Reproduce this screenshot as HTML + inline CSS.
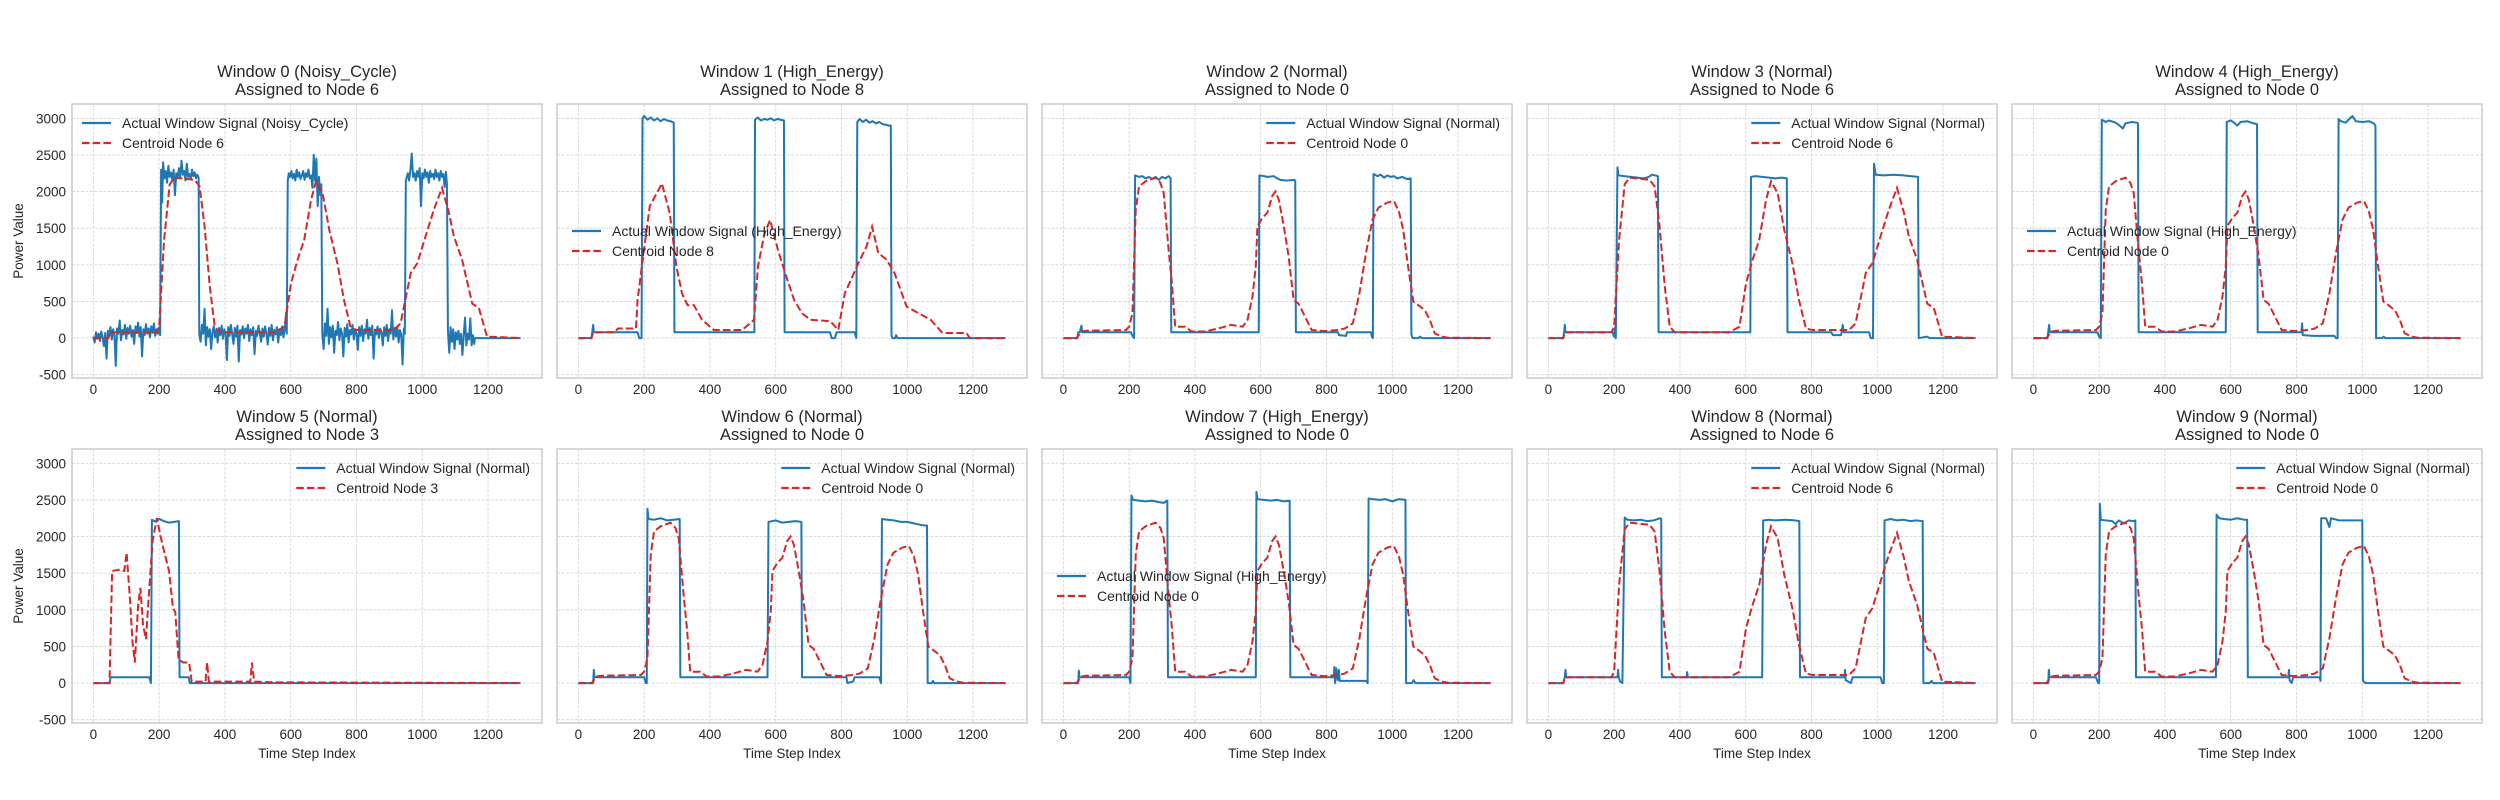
<!DOCTYPE html>
<html><head><meta charset="utf-8">
<style>
html,body{margin:0;padding:0;background:#fff;}
svg{display:block;font-family:"Liberation Sans",Arial,sans-serif;}
</style></head>
<body>
<svg id="fig" width="2500" height="800" viewBox="0 0 2500 800" xmlns="http://www.w3.org/2000/svg">
<text x="1250" y="-9" text-anchor="middle" font-size="22" fill="#262626">Sample Window Mapping to Assigned SOM Centroid Signatures</text>
</svg>
<script>
// ---- data ----
const xTicks = [0,200,400,600,800,1000,1200];
const yTicks = [-500,0,500,1000,1500,2000,2500,3000];
const panelTitles = ["Window 0 (Noisy_Cycle)","Window 1 (High_Energy)","Window 2 (Normal)","Window 3 (Normal)","Window 4 (High_Energy)","Window 5 (Normal)","Window 6 (Normal)","Window 7 (High_Energy)","Window 8 (Normal)","Window 9 (Normal)"];
const panelClasses = ["Noisy_Cycle","High_Energy","Normal","Normal","High_Energy","Normal","Normal","High_Energy","Normal","Normal"];
const assignedNodes = [6,8,0,6,0,3,0,0,6,0];
const legendLocs = ["ul","cl","ur","ur","cl","ur","ur","cl","ur","ur"];

const centroid0 = [[0,0],[40,0],[55,90],[70,100],[190,110],[200,155],[210,340],[220,1750],[230,2070],[250,2140],[280,2190],[295,2120],[305,1980],[320,1200],[330,750],[340,155],[370,155],[390,90],[430,90],[470,130],[510,180],[545,155],[560,250],[575,570],[585,980],[590,1530],[605,1640],[620,1710],[635,1940],[645,2000],[655,1890],[670,1530],[685,1110],[700,520],[715,470],[735,290],[755,110],[795,95],[835,110],[855,130],[880,200],[900,610],[920,1160],[940,1620],[958,1780],[985,1850],[1005,1870],[1020,1730],[1033,1480],[1048,980],[1064,500],[1079,450],[1099,380],[1114,250],[1129,65],[1150,20],[1170,5],[1299,0]];
const centroid3 = [[0,0],[49,0],[57,1530],[81,1550],[94,1530],[101,1780],[111,1160],[119,560],[126,280],[136,1060],[143,1300],[151,790],[160,600],[168,1160],[180,1940],[193,2250],[205,1990],[217,1760],[230,1530],[242,1020],[249,970],[259,320],[274,280],[291,280],[299,20],[341,20],[346,280],[351,20],[477,20],[482,280],[489,20],[550,10],[1299,0]];
const centroid6 = [[0,0],[45,0],[52,80],[192,80],[200,155],[215,1340],[232,2100],[247,2190],[308,2160],[323,2070],[338,1530],[354,700],[369,155],[384,80],[550,80],[581,155],[601,750],[621,1070],[641,1340],[662,1890],[677,2140],[697,1980],[717,1480],[742,1020],[762,520],[783,130],[803,110],[914,110],[934,200],[965,890],[985,1020],[1010,1390],[1035,1750],[1060,2050],[1081,1710],[1096,1390],[1121,1070],[1152,470],[1172,410],[1197,20],[1299,0]];
const centroid8 = [[0,0],[40,0],[45,80],[110,80],[120,130],[175,130],[180,520],[193,980],[217,1800],[254,2110],[278,1700],[298,980],[315,610],[332,450],[351,450],[376,250],[412,110],[498,110],[534,250],[546,980],[566,1430],[583,1610],[607,1200],[632,840],[656,520],[680,340],[705,250],[766,230],[790,110],[810,610],[851,1020],[876,1250],[893,1520],[912,1160],[937,1070],[961,890],[998,430],[1034,340],[1071,250],[1107,70],[1180,70],[1190,0],[1299,0]];

const actual0 = [[0,20],[4,-60],[8,80],[12,-10],[16,60],[20,-40],[24,90],[28,10],[32,-110],[36,70],[40,-280],[44,100],[48,30],[52,150],[56,-20],[60,120],[64,40],[68,-380],[72,130],[76,60],[80,240],[84,-30],[88,110],[92,50],[96,180],[100,-10],[104,140],[108,60],[112,170],[116,20],[120,110],[124,-80],[128,160],[132,70],[136,210],[140,20],[144,150],[148,-250],[152,120],[156,40],[160,190],[164,60],[168,130],[172,10],[176,160],[180,70],[184,200],[188,30],[192,120],[196,60],[200,150],[203,40],
[206,2300],[209,1850],[212,2400],[216,2180],[220,2280],[224,2120],[228,2350],[232,2200],[236,2260],[240,2150],[244,2300],[248,1950],[252,2250],[256,2180],[260,2320],[264,2200],[268,2420],[272,2230],[276,2280],[280,2150],[284,2380],[288,2200],[292,2240],[296,2170],[300,2300],[304,2210],[308,2260],[312,2180],[316,2230],[320,2190],
[322,50],[326,-50],[330,180],[334,60],[338,400],[342,-100],[346,150],[350,20],[354,120],[358,-150],[362,80],[366,160],[370,10],[374,110],[378,-60],[382,140],[386,40],[390,170],[394,-10],[398,120],[402,60],[406,-300],[410,150],[414,30],[418,180],[422,60],[426,-80],[430,140],[434,20],[438,170],[442,-320],[446,110],[450,50],[454,160],[458,0],[462,130],[466,60],[470,180],[474,-40],[478,120],[482,40],[486,150],[490,-220],[494,100],[498,30],[502,170],[506,70],[510,-50],[514,130],[518,20],[522,160],[526,60],[530,-90],[534,140],[538,30],[542,180],[546,-30],[550,110],[554,50],[558,150],[562,-60],[566,120],[570,40],[574,160],[578,10],[582,130],[586,350],[588,60],
[591,2150],[594,2250],[598,2200],[602,2280],[606,2180],[610,2240],[614,2150],[618,2300],[622,2200],[626,2260],[630,2170],[634,2220],[638,2280],[642,2160],[646,2250],[650,2200],[654,2300],[658,2180],[662,2220],[666,2050],[670,2500],[674,2150],[678,2450],[682,1800],[686,2200],[690,1950],[693,2100],
[696,50],[700,-150],[704,200],[708,30],[712,400],[716,-80],[720,150],[724,10],[728,170],[732,-200],[736,100],[740,40],[744,220],[748,-30],[752,130],[756,60],[760,-250],[764,140],[768,20],[772,190],[776,-60],[780,110],[784,50],[788,180],[792,-20],[796,120],[800,60],[804,-160],[808,150],[812,30],[816,170],[820,-40],[824,120],[828,60],[832,250],[836,-10],[840,140],[844,40],[848,170],[852,-280],[856,110],[860,50],[864,160],[868,0],[872,130],[876,80],[880,-100],[884,150],[888,30],[892,180],[896,-40],[900,120],[904,60],[908,380],[912,-20],[916,140],[920,20],[924,160],[928,-60],[932,110],[936,50],[940,-360],[944,130],[947,60],
[950,2150],[953,2200],[956,2250],[960,2150],[964,2300],[968,2520],[972,2200],[976,2250],[980,2150],[984,2280],[988,2200],[992,2320],[996,1800],[1000,2250],[1004,2180],[1008,2300],[1012,2200],[1016,2260],[1020,2120],[1024,2280],[1028,2200],[1032,2240],[1036,2170],[1040,2300],[1044,2200],[1048,2250],[1052,2150],[1056,2280],[1060,2200],[1064,2240],[1068,2060],[1072,2270],[1075,2100],
[1078,100],[1082,-200],[1086,150],[1090,-50],[1094,120],[1098,-150],[1102,80],[1106,-20],[1110,100],[1114,-80],[1118,60],[1122,-230],[1126,40],[1130,280],[1134,-100],[1138,60],[1142,-20],[1146,270],[1150,-100],[1154,40],[1158,-80],[1160,0],[1299,0]];
const actual1 = [[0,0],[40,0],[42,80],[45,180],[47,80],[180,80],[185,0],[192,0],[195,3000],[200,3030],[210,2980],[220,3010],[230,2970],[240,3000],[250,2960],[260,2990],[270,2970],[280,2960],[290,2940],[292,80],[535,80],[537,2980],[545,3010],[555,2970],[565,2990],[575,2980],[585,3000],[595,2970],[605,2990],[615,2980],[625,2970],[627,80],[765,80],[770,0],[780,0],[785,80],[840,80],[845,0],[848,2950],[855,2990],[865,2950],[875,2980],[885,2940],[895,2960],[905,2930],[915,2950],[925,2920],[945,2900],[950,2900],[952,30],[955,0],[963,0],[966,40],[970,0],[1299,0]];
const actual2 = [[0,0],[43,0],[45,80],[50,80],[55,170],[57,80],[205,80],[210,30],[215,0],[218,2220],[230,2200],[240,2210],[250,2180],[260,2200],[270,2170],[280,2200],[290,2160],[300,2200],[310,2180],[320,2210],[326,2180],[328,80],[594,80],[596,2220],[610,2210],[620,2200],[640,2210],[650,2180],[660,2160],[680,2150],[700,2160],[705,2150],[707,80],[835,80],[838,40],[860,30],[862,80],[935,80],[938,20],[941,0],[943,2240],[955,2210],[965,2230],[975,2190],[985,2220],[995,2200],[1005,2210],[1015,2180],[1030,2200],[1045,2170],[1056,2180],[1058,50],[1062,0],[1080,0],[1084,20],[1090,0],[1299,0]];
const actual3 = [[0,0],[45,0],[48,80],[50,180],[52,80],[195,80],[200,20],[203,150],[205,0],[210,2330],[213,2220],[230,2210],[250,2200],[270,2190],[290,2180],[305,2200],[315,2230],[325,2220],[333,2210],[335,80],[614,80],[616,2200],[630,2210],[650,2200],[670,2190],[690,2180],[710,2190],[725,2180],[727,80],[860,80],[865,40],[890,40],[895,180],[898,80],[975,80],[980,0],[987,0],[990,2380],[995,2230],[1020,2220],[1050,2230],[1080,2220],[1100,2210],[1124,2200],[1126,0],[1140,10],[1150,20],[1160,0],[1299,0]];
const actual4 = [[0,0],[43,0],[45,80],[48,180],[50,80],[195,80],[200,20],[205,0],[208,2980],[220,2950],[230,2970],[250,2940],[262,2900],[272,2860],[280,2930],[300,2950],[315,2940],[318,2930],[320,80],[585,80],[588,2950],[600,2970],[610,2940],[620,2900],[630,2950],[650,2960],[670,2930],[680,2920],[682,80],[815,80],[817,200],[819,40],[850,30],[915,30],[920,0],[925,0],[928,2990],[935,2960],[950,2940],[960,2990],[970,3030],[980,2960],[1000,2950],[1020,2960],[1035,2930],[1040,2900],[1042,0],[1060,0],[1065,20],[1070,0],[1299,0]];
const actual5 = [[0,0],[50,0],[52,80],[170,80],[175,0],[178,2230],[190,2200],[200,2240],[215,2210],[230,2190],[245,2200],[260,2210],[262,80],[290,80],[293,0],[1299,0]];
const actual6 = [[0,0],[45,0],[47,180],[49,80],[200,80],[205,0],[208,0],[210,2380],[213,2240],[230,2230],[250,2250],[270,2220],[290,2230],[308,2240],[310,80],[575,80],[578,2200],[600,2220],[620,2190],[640,2200],[660,2210],[678,2200],[680,80],[815,80],[818,0],[835,20],[840,80],[915,80],[920,0],[923,2240],[940,2230],[960,2220],[980,2200],[1000,2200],[1020,2180],[1040,2160],[1055,2150],[1060,2150],[1062,0],[1075,0],[1078,30],[1082,0],[1299,0]];
const actual7 = [[0,0],[45,0],[47,170],[49,80],[200,80],[204,0],[207,2560],[212,2500],[230,2490],[250,2480],[270,2490],[290,2470],[305,2460],[316,2490],[318,80],[585,80],[587,2610],[590,2510],[610,2500],[630,2490],[650,2500],[670,2480],[688,2490],[690,80],[822,80],[824,220],[826,0],[830,200],[834,40],[838,180],[840,30],[920,30],[925,0],[928,2520],[940,2510],[960,2500],[980,2510],[1000,2480],[1020,2510],[1040,2500],[1042,0],[1060,0],[1065,40],[1070,0],[1299,0]];
const actual8 = [[0,0],[45,0],[50,80],[52,180],[54,80],[210,80],[212,180],[214,80],[218,20],[225,0],[232,2260],[240,2230],[260,2220],[280,2230],[300,2210],[320,2220],[340,2250],[343,2240],[345,80],[420,80],[422,150],[424,80],[650,80],[653,2220],[670,2230],[690,2220],[720,2230],[750,2220],[763,2210],[765,80],[900,80],[902,180],[904,40],[920,0],[925,80],[1010,80],[1015,0],[1020,0],[1022,2220],[1040,2240],[1060,2220],[1080,2230],[1100,2210],[1120,2220],[1138,2210],[1140,0],[1160,0],[1165,30],[1170,0],[1299,0]];
const actual9 = [[0,0],[45,0],[47,180],[49,80],[190,80],[197,0],[200,0],[202,2450],[205,2230],[220,2220],[240,2210],[250,2170],[260,2220],[275,2180],[290,2220],[305,2210],[310,2220],[312,80],[555,80],[557,2300],[565,2250],[580,2240],[600,2230],[620,2250],[640,2230],[650,2230],[652,80],[775,80],[777,180],[779,40],[785,0],[790,80],[870,80],[873,30],[875,2250],[890,2250],[900,2130],[905,2250],[930,2220],[960,2220],[1000,2220],[1002,30],[1010,0],[1299,0]];

const actualSeries = [actual0,actual1,actual2,actual3,actual4,actual5,actual6,actual7,actual8,actual9];
const centroidById = {0:centroid0,3:centroid3,6:centroid6,8:centroid8};

// ---- layout ----
const NS = "http://www.w3.org/2000/svg";
const svg = document.getElementById("fig");
const PW = 470, PH = 274;
const colX = [72,557,1042,1527,2012];
const rowY = [104,449];
const XMIN = -65, XMAX = 1364, YMIN = -545, YMAX = 3195;

function el(tag, attrs, parent){
  const e = document.createElementNS(NS, tag);
  for (const k in attrs) e.setAttribute(k, attrs[k]);
  (parent||svg).appendChild(e);
  return e;
}

for (let i = 0; i < 10; i++) {
  const r = Math.floor(i/5), c = i%5;
  const ox = colX[c], oy = rowY[r];
  const sx = v => ox + (v - XMIN) / (XMAX - XMIN) * PW;
  const sy = v => oy + (YMAX - v) / (YMAX - YMIN) * PH;
  const g = el("g", {});
  
  

  xTicks.forEach(t => {
    const l = el("line", {x1:sx(t), x2:sx(t), y1:oy, y2:oy+PH, stroke:"#d6d6d6", "stroke-width":0.9, "stroke-dasharray":"3,1.5"}, g);
    
    
  });
  yTicks.forEach(t => {
    const l = el("line", {x1:ox, x2:ox+PW, y1:sy(t), y2:sy(t), stroke:"#d6d6d6", "stroke-width":0.9, "stroke-dasharray":"3,1.5"}, g);
    
    
  });

  const cp = el("clipPath", {id:"cp"+i}, g);
  el("rect", {x:ox, y:oy, width:PW, height:PH}, cp);

  const toPath = arr => arr.map((p,j) => (j?"L":"M") + sx(p[0]).toFixed(2) + "," + sy(p[1]).toFixed(2)).join("");
  const a = el("path", {d:toPath(actualSeries[i]), fill:"none", stroke:"#1f77b4", "stroke-width":2, "stroke-linejoin":"round", "clip-path":"url(#cp"+i+")"}, g);
  
  
  const cd = el("path", {d:toPath(centroidById[assignedNodes[i]]), fill:"none", stroke:"#d62728", "stroke-width":2, "stroke-dasharray":"7.5,3.2", "clip-path":"url(#cp"+i+")"}, g);
  
  

  const fr = el("rect", {x:ox, y:oy, width:PW, height:PH, fill:"none", stroke:"#cccccc", "stroke-width":1.5}, g);
  
  

  const t1 = el("text", {x:ox+PW/2, y:oy-27, "text-anchor":"middle", "font-size":16.5, fill:"#262626"}, g);
  t1.textContent = panelTitles[i];
  
  
  const t2 = el("text", {x:ox+PW/2, y:oy-9, "text-anchor":"middle", "font-size":16.5, fill:"#262626"}, g);
  t2.textContent = "Assigned to Node " + assignedNodes[i];
  
  

  xTicks.forEach(t => {
    const tl = el("text", {x:sx(t), y:oy+PH+16, "text-anchor":"middle", "font-size":13.5, fill:"#262626"}, g);
    tl.textContent = t;
    
    
  });
  if (r === 1) {
    const xl = el("text", {x:ox+PW/2, y:oy+PH+35, "text-anchor":"middle", "font-size":13.5, fill:"#262626"}, g);
    xl.textContent = "Time Step Index";
    
    
  }
  if (c === 0) {
    yTicks.forEach(t => {
      const tl = el("text", {x:ox-6, y:sy(t)+5, "text-anchor":"end", "font-size":13.5, fill:"#262626"}, g);
      tl.textContent = t;
      
      
    });
    const yl = el("text", {x:0, y:0, "text-anchor":"middle", "font-size":13.5, fill:"#262626", transform:"translate(23,"+(oy+PH/2)+") rotate(-90)"}, g);
    yl.textContent = "Power Value";
    
    
  }

  const lg = el("g", {}, g);
  
  
  const lab1 = "Actual Window Signal (" + panelClasses[i] + ")";
  const lab2 = "Centroid Node " + assignedNodes[i];
  const loc = legendLocs[i];
  let y1 = loc === "cl" ? oy + PH/2 - 10 : oy + 19;
  const tA = el("text", {x:0, y:y1+5, "font-size":14, fill:"#262626"}, lg);
  tA.textContent = lab1;
  
  
  const tB = el("text", {x:0, y:y1+25, "font-size":14, fill:"#262626"}, lg);
  tB.textContent = lab2;
  
  
  const w = Math.max(tA.getComputedTextLength(), tB.getComputedTextLength());
  let textX = (loc === "ur") ? ox + PW - 12 - w : (loc === "ul" ? ox + 50 : ox + 55);
  tA.setAttribute("x", textX); tB.setAttribute("x", textX);
  const hx = textX - 40;
  const h1 = el("line", {x1:hx, x2:hx+29, y1:y1, y2:y1, stroke:"#1f77b4", "stroke-width":2.2}, lg);
  
  
  const h2 = el("line", {x1:hx, x2:hx+29, y1:y1+20, y2:y1+20, stroke:"#d62728", "stroke-width":2.2, "stroke-dasharray":"7.5,3.2"}, lg);
  
  
}
</script>
</body></html>
